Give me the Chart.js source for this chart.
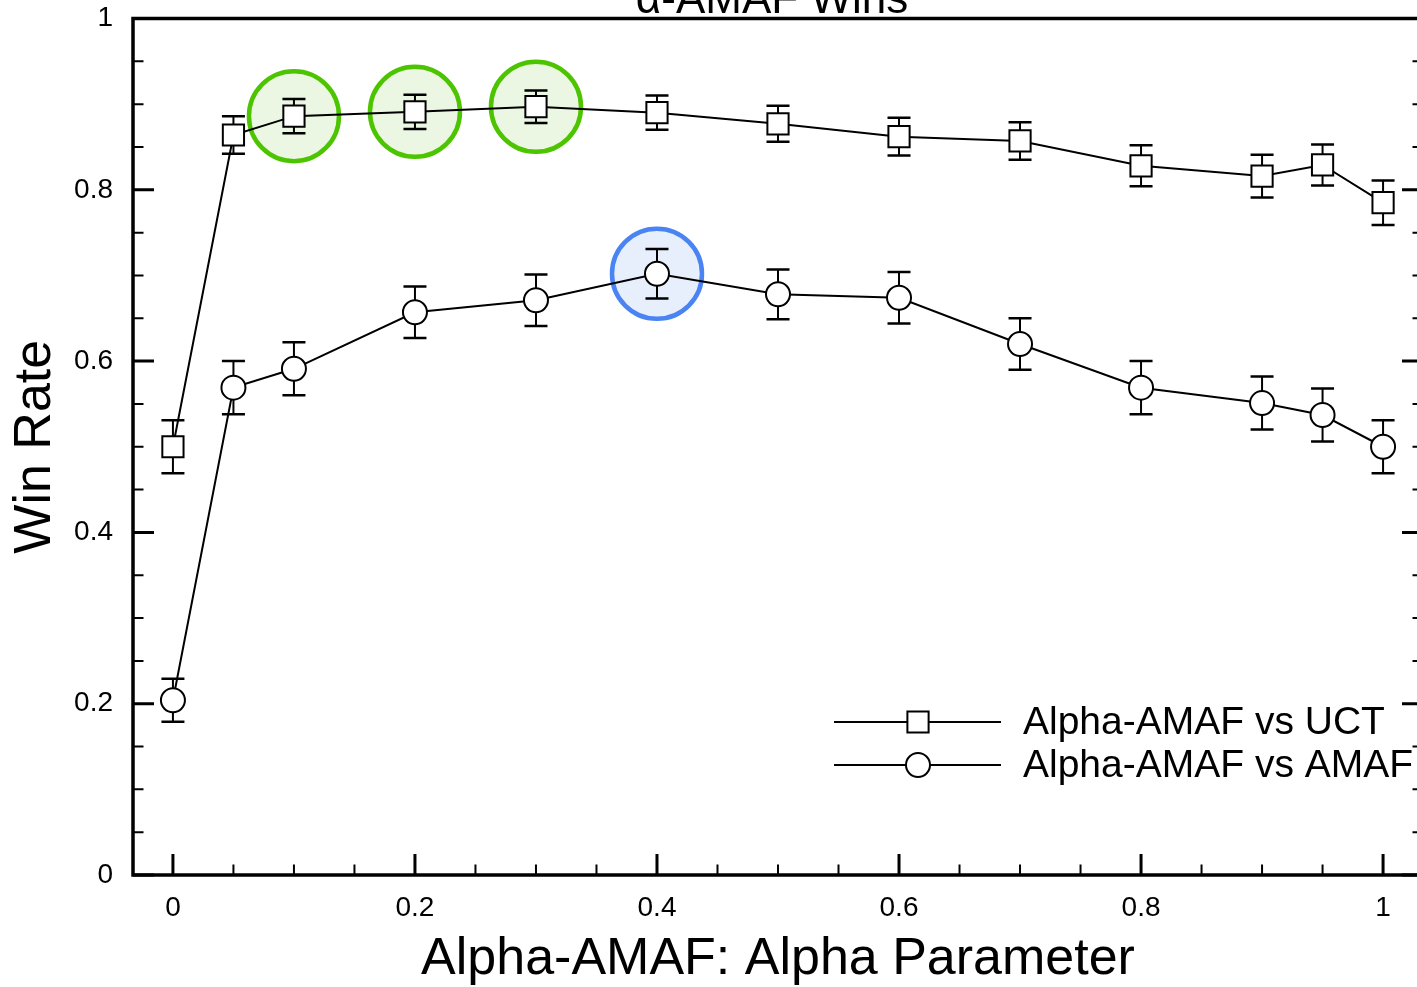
<!DOCTYPE html>
<html><head><meta charset="utf-8">
<script src="https://cdn.jsdelivr.net/npm/chart.js@4/dist/chart.umd.min.js"></script>
<style>
html,body{margin:0;padding:0;background:#fff;overflow:hidden;width:1417px;height:987px}
#wrap{position:absolute;left:0;top:0;width:1440px;height:987px}
</style>
</head><body><div id="wrap"><canvas id="c" width="1440" height="987"></canvas></div>
<script>
const chartTitle = 'α-AMAF Wins';
const xAxisTitle = 'Alpha-AMAF: Alpha Parameter';
const yAxisTitle = 'Win Rate';
const seriesNames = ['Alpha-AMAF vs UCT', 'Alpha-AMAF vs AMAF'];
const alphaValues = [0, 0.05, 0.1, 0.2, 0.3, 0.4, 0.5, 0.6, 0.7, 0.8, 0.9, 0.95, 1];
const uctWinRate  = [0.500, 0.864, 0.886, 0.891, 0.897, 0.890, 0.877, 0.862, 0.857, 0.828, 0.816, 0.829, 0.785];
const uctError    = [0.031, 0.022, 0.020, 0.020, 0.019, 0.020, 0.021, 0.022, 0.022, 0.024, 0.025, 0.024, 0.026];
const amafWinRate = [0.204, 0.569, 0.591, 0.657, 0.671, 0.702, 0.678, 0.674, 0.620, 0.569, 0.551, 0.537, 0.500];
const amafError   = [0.025, 0.031, 0.031, 0.030, 0.030, 0.029, 0.029, 0.030, 0.030, 0.031, 0.031, 0.031, 0.031];
const xTickValues = [0, 0.2, 0.4, 0.6, 0.8, 1];
const yTickValues = [0, 0.2, 0.4, 0.6, 0.8, 1];
const minorTickValues = [0.05, 0.1, 0.15, 0.25, 0.3, 0.35, 0.45, 0.5, 0.55, 0.65, 0.7, 0.75, 0.85, 0.9, 0.95];
const highlightUct = [0.1, 0.2, 0.3];
const highlightAmaf = [0.4];

const SANS = '"Liberation Sans", Arial, Helvetica, sans-serif';
Chart.defaults.font.family = SANS;
Chart.defaults.color = '#000';

const SQ_R = 15, CI_R = 12;

function drawMarker(ctx, style, x, y) {
  ctx.beginPath();
  if (style === 'rect') {
    const h = SQ_R * Math.SQRT1_2;
    ctx.rect(x - h, y - h, 2 * h, 2 * h);
  } else {
    ctx.arc(x, y, CI_R, 0, Math.PI * 2);
  }
  ctx.fillStyle = '#fff';
  ctx.fill();
  ctx.lineWidth = 2;
  ctx.strokeStyle = '#000';
  ctx.stroke();
}

const decor = {
  id: 'decor',
  beforeDatasetsDraw(chart) {
    const {ctx, scales: {x, y}} = chart;
    ctx.save();
    const hi = (vals, list, stroke, fill) => {
      list.forEach(v => {
        const i = alphaValues.indexOf(v);
        const px = x.getPixelForValue(v), py = y.getPixelForValue(vals[i]);
        ctx.beginPath();
        ctx.arc(px, py, 45, 0, Math.PI * 2);
        ctx.fillStyle = fill; ctx.fill();
        ctx.lineWidth = 4.5; ctx.strokeStyle = stroke; ctx.stroke();
      });
    };
    hi(uctWinRate, highlightUct, '#4cc400', '#ebf7e3');
    hi(amafWinRate, highlightAmaf, '#4a84f3', '#e7eefc');
    const err = (vals, errs) => {
      ctx.strokeStyle = '#000';
      alphaValues.forEach((a, i) => {
        const px = x.getPixelForValue(a);
        const y1 = y.getPixelForValue(vals[i] + errs[i]);
        const y2 = y.getPixelForValue(vals[i] - errs[i]);
        ctx.lineWidth = 2;
        ctx.beginPath(); ctx.moveTo(px, y1); ctx.lineTo(px, y2); ctx.stroke();
        ctx.lineWidth = 2.5;
        ctx.beginPath();
        ctx.moveTo(px - 11.5, y1); ctx.lineTo(px + 11.5, y1);
        ctx.moveTo(px - 11.5, y2); ctx.lineTo(px + 11.5, y2);
        ctx.stroke();
      });
    };
    err(uctWinRate, uctError);
    err(amafWinRate, amafError);
    ctx.restore();
  },
  afterDraw(chart) {
    const {ctx, chartArea: a, scales: {x, y}} = chart;
    ctx.save();
    ctx.strokeStyle = '#000';
    ctx.lineWidth = 3.5;
    ctx.strokeRect(a.left, a.top, a.right - a.left, a.bottom - a.top);
    const tick = (vals, len, w) => {
      ctx.lineWidth = w;
      ctx.beginPath();
      vals.forEach(v => {
        const px = x.getPixelForValue(v);
        ctx.moveTo(px, a.bottom); ctx.lineTo(px, a.bottom - len);
        const py = y.getPixelForValue(v);
        ctx.moveTo(a.left, py); ctx.lineTo(a.left + len, py);
        ctx.moveTo(a.right, py); ctx.lineTo(a.right - len, py);
      });
      ctx.stroke();
    };
    tick(xTickValues, 21, 3);
    tick(minorTickValues, 10.5, 2);
    ctx.fillStyle = '#000';
    ctx.font = '44px ' + SANS;
    ctx.textAlign = 'center';
    ctx.textBaseline = 'alphabetic';
    ctx.fillText(chartTitle, (a.left + a.right) / 2 - 6, 12.5);
    const lx1 = 834, lx2 = 1001, mx = 918, tx = 1023;
    const rows = [[seriesNames[0], 'rect', 722], [seriesNames[1], 'circle', 765]];
    ctx.font = '39px ' + SANS;
    ctx.textAlign = 'left';
    ctx.textBaseline = 'middle';
    rows.forEach(([name, st, ly]) => {
      ctx.lineWidth = 2;
      ctx.beginPath(); ctx.moveTo(lx1, ly); ctx.lineTo(lx2, ly); ctx.stroke();
      drawMarker(ctx, st, mx, ly);
      ctx.fillStyle = '#000';
      ctx.fillText(name, tx, ly + 1);
    });
    ctx.restore();
  }
};

const mk = (vals) => alphaValues.map((a, i) => ({x: a, y: vals[i]}));
const zeroPad = s => { s.paddingTop = 0; s.paddingBottom = 0; s.paddingLeft = 0; s.paddingRight = 0; };

new Chart(document.getElementById('c'), {
  type: 'line',
  data: {
    datasets: [
      {label: seriesNames[0], data: mk(uctWinRate), borderColor: '#000', borderWidth: 2,
       pointStyle: 'rect', pointRadius: SQ_R, pointBackgroundColor: '#fff', pointBorderColor: '#000',
       pointBorderWidth: 2, tension: 0, fill: false},
      {label: seriesNames[1], data: mk(amafWinRate), borderColor: '#000', borderWidth: 2,
       pointStyle: 'circle', pointRadius: CI_R, pointBackgroundColor: '#fff', pointBorderColor: '#000',
       pointBorderWidth: 2, tension: 0, fill: false}
    ]
  },
  options: {
    responsive: false,
    animation: false,
    layout: {padding: {top: 18.5, right: 15, left: 0, bottom: 0}},
    plugins: {legend: {display: false}, tooltip: {enabled: false}, title: {display: false}},
    scales: {
      x: {
        type: 'linear', min: -0.033, max: 1.033,
        afterBuildTicks: s => { s.ticks = xTickValues.map(v => ({value: v})); },
        afterFit: s => { s.height = 112; zeroPad(s); },
        grid: {display: false, drawTicks: false}, border: {display: false},
        ticks: {font: {size: 28, lineHeight: 1}, color: '#000',
                padding: 19, maxRotation: 0, autoSkip: false, callback: v => String(v)},
        title: {display: true, text: xAxisTitle, color: '#000', font: {size: 52, lineHeight: 1},
                padding: {top: 0, bottom: 1}}
      },
      y: {
        type: 'linear', min: 0, max: 1,
        afterBuildTicks: s => { s.ticks = yTickValues.map(v => ({value: v})); },
        afterFit: s => { s.width = 133; zeroPad(s); },
        grid: {display: false, drawTicks: false}, border: {display: false},
        ticks: {font: {size: 28, lineHeight: 1}, color: '#000',
                padding: 20, autoSkip: false, callback: v => String(v)},
        title: {display: true, text: yAxisTitle, color: '#000', font: {size: 52, lineHeight: 1},
                padding: {top: 10, bottom: 0}}
      }
    }
  },
  plugins: [decor]
});
</script>
</body></html>
